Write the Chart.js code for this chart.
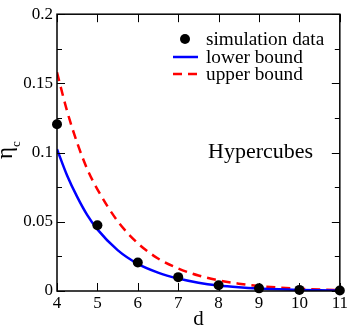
<!DOCTYPE html>
<html>
<head>
<meta charset="utf-8">
<script src="https://cdn.jsdelivr.net/npm/chart.js@4"></script>
<style>
  html, body { margin: 0; padding: 0; background: #fff; }
  #wrap { width: 350px; height: 327px; }
</style>
</head>
<body>
<div id="wrap"><canvas id="chart" width="350" height="327"></canvas></div>
<script>
// simulation points
const simD = [4, 5, 6, 7, 8, 9, 10, 11];
const simEta = [0.1205, 0.0475, 0.0206, 0.0100, 0.0042, 0.0019, 0.0008, 0.0003];

// bounds
const boundD = [4, 4.25, 4.5, 4.75, 5, 5.5, 6, 6.5, 7, 7.5, 8, 8.5, 9, 9.5, 10, 10.5, 11];
const lowerEta = [0.1025, 0.0835, 0.068, 0.0548, 0.0445, 0.0295, 0.0196, 0.0133, 0.0090, 0.0060, 0.0040, 0.0027, 0.0018, 0.0012, 0.0008, 0.0005, 0.0003];
const upperEta = [0.158, 0.130, 0.107, 0.088, 0.0735, 0.0505, 0.0345, 0.0235, 0.0163, 0.0112, 0.0077, 0.0053, 0.0036, 0.0025, 0.0017, 0.0011, 0.0007];

const xTicks = [4, 5, 6, 7, 8, 9, 10, 11];
const yTicks = [0, 0.05, 0.1, 0.15, 0.2];
const yMinor = [0.025, 0.075, 0.125, 0.175];

const serif = '"Liberation Serif", "DejaVu Serif", serif';

const toPts = (xs, ys) => xs.map((x, i) => ({ x: x, y: ys[i] }));

// text a bit wider than Liberation Serif, like the original
function wideText(ctx, txt, x, y, sx) {
    ctx.save();
    ctx.translate(x, y);
    ctx.scale(sx, 1);
    ctx.fillText(txt, 0, 0);
    ctx.restore();
}

// inward ticks on all four sides, text annotations, custom legend
const decor = {
    id: 'decor',
    afterDraw(chart) {
        const ctx = chart.ctx;
        const a = chart.chartArea;
        const xs = chart.scales.x, ys = chart.scales.y;
        ctx.save();
        ctx.strokeStyle = '#000';
        ctx.lineWidth = 1;
        // x ticks bottom + top
        xTicks.forEach(v => {
            const px = Math.round(xs.getPixelForValue(v)) + 0.5;
            ctx.beginPath();
            ctx.moveTo(px, a.bottom); ctx.lineTo(px, a.bottom - 8);
            ctx.moveTo(px, a.top); ctx.lineTo(px, a.top + 8);
            ctx.stroke();
        });
        // y ticks left + right
        const yt = (v, len) => {
            const py = Math.round(ys.getPixelForValue(v)) + 0.5;
            ctx.beginPath();
            ctx.moveTo(a.left, py); ctx.lineTo(a.left + len, py);
            ctx.moveTo(a.right, py); ctx.lineTo(a.right - len, py);
            ctx.stroke();
        };
        yTicks.forEach(v => yt(v, 8));
        yMinor.forEach(v => yt(v, 5));
        // frame
        ctx.lineWidth = 1.5;
        ctx.strokeRect(a.left, a.top, a.right - a.left, a.bottom - a.top);

        // y title: eta with subscript c
        ctx.fillStyle = '#000';
        ctx.translate(12, 153);
        ctx.rotate(-Math.PI / 2);
        ctx.textBaseline = 'alphabetic';
        ctx.textAlign = 'center';
        ctx.font = '23px ' + serif;
        ctx.fillText('η', 0, 0);
        ctx.font = '13px ' + serif;
        ctx.textAlign = 'left';
        ctx.fillText('c', 6, 8);
        ctx.setTransform(1, 0, 0, 1, 0, 0);

        // label inside plot
        ctx.font = '20px ' + serif;
        ctx.textAlign = 'left';
        wideText(ctx, 'Hypercubes', 208, 158, 1.1);

        // legend
        const ds = chart.data.datasets;
        const rows = [39, 57, 74];
        ctx.font = '18px ' + serif;
        ctx.textBaseline = 'middle';
        ds.forEach((d, i) => {
            const y = rows[i];
            if (d.showLine === false) {
                ctx.beginPath();
                ctx.fillStyle = d.pointBackgroundColor;
                ctx.arc(185, y, 5, 0, Math.PI * 2);
                ctx.fill();
            } else {
                ctx.beginPath();
                ctx.strokeStyle = d.borderColor;
                ctx.lineWidth = d.borderWidth;
                ctx.setLineDash(d.borderDash || []);
                ctx.moveTo(173, y); ctx.lineTo(198, y);
                ctx.stroke();
                ctx.setLineDash([]);
            }
            ctx.fillStyle = '#000';
            wideText(ctx, d.label, 206, y + 1, 1.07);
        });
        ctx.restore();
    }
};

new Chart(document.getElementById('chart'), {
    type: 'scatter',
    data: {
        datasets: [
            {
                label: 'simulation data',
                data: toPts(simD, simEta),
                showLine: false,
                pointRadius: 5,
                pointBackgroundColor: '#000',
                pointBorderColor: '#000',
                pointBorderWidth: 0,
                clip: false
            },
            {
                label: 'lower bound',
                data: toPts(boundD, lowerEta),
                showLine: true,
                borderColor: '#0000ff',
                borderWidth: 2.5,
                pointRadius: 0,
                cubicInterpolationMode: 'monotone'
            },
            {
                label: 'upper bound',
                data: toPts(boundD, upperEta),
                showLine: true,
                borderColor: '#ff0000',
                borderWidth: 2.5,
                borderDash: [9, 6],
                pointRadius: 0,
                cubicInterpolationMode: 'monotone'
            }
        ]
    },
    options: {
        responsive: false,
        animation: false,
        layout: { padding: { top: 6, right: 8, left: 0, bottom: 0 } },
        plugins: { legend: { display: false }, tooltip: { enabled: false } },
        scales: {
            x: {
                type: 'linear',
                min: 4, max: 11,
                afterFit: s => { s.height = 36; },
                afterBuildTicks: s => { s.ticks = xTicks.map(v => ({ value: v })); },
                grid: { display: false, drawTicks: false },
                border: { display: false },
                ticks: { color: '#000', padding: 2, font: { family: serif, size: 17 } },
                title: { display: true, text: 'd', color: '#000', padding: { top: 0, bottom: -3 }, font: { family: serif, size: 21, lineHeight: 1 } }
            },
            y: {
                min: 0, max: 0.2,
                afterFit: s => { s.width = 57; },
                afterBuildTicks: s => { s.ticks = yTicks.map(v => ({ value: v })); },
                grid: { display: false, drawTicks: false },
                border: { display: false },
                ticks: {
                    color: '#000', padding: 4, font: { family: serif, size: 17 },
                    callback: v => String(+v.toFixed(3))
                }
            }
        }
    },
    plugins: [decor]
});
</script>
</body>
</html>
